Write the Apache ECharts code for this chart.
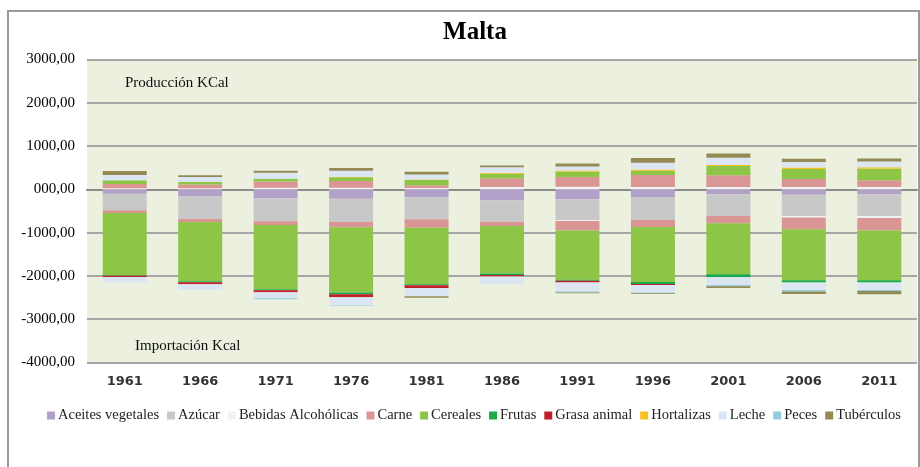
<!DOCTYPE html>
<html><head><meta charset="utf-8">
<script src="https://cdn.jsdelivr.net/npm/echarts@6/dist/echarts.min.js"></script>
<style>html,body{margin:0;padding:0;background:#fff}#c{width:920px;height:467px}</style>
</head><body><div id="c"></div>
<script>
const years = ['1961','1966','1971','1976','1981','1986','1991','1996','2001','2006','2011'];
const foods = ['Aceites vegetales','Azúcar','Bebidas Alcohólicas','Carne','Cereales','Frutas','Grasa animal','Hortalizas','Leche','Peces','Tubérculos'];
const colors = ['#B1A0C7','#C8C8C8','#F2F2F2','#DA9694','#8DC546','#1AA84A','#C0202A','#F9C124','#DCE6F2','#92CDDC','#948A54'];
const yTicks = [-4000,-3000,-2000,-1000,0,1000,2000,3000];

// Producción (positive)
const prodAceites    = [0,0,0,0,0,0,0,0,0,0,0];
const prodAzucar     = [0,0,0,0,0,0,0,0,0,0,0];
const prodBebidas    = [25,25,38,38,30,54,60,54,54,54,54];
const prodCarne      = [100,85,146,154,62,200,223,277,270,185,154];
const prodCereales   = [85,62,62,85,123,108,130,100,215,230,270];
const prodFrutas     = [0,0,0,0,0,0,0,0,0,0,0];
const prodGrasa      = [0,0,0,0,0,0,0,0,0,0,0];
const prodHortalizas = [0,0,0,15,15,23,23,30,30,38,30];
const prodLeche      = [123,115,138,138,115,123,92,154,162,123,138];
const prodPeces      = [0,0,0,0,0,0,0,0,0,0,0];
const prodTuberculos = [92,38,46,62,62,46,69,108,100,77,69];

// Importación (negative)
const impAceites    = [-100,-160,-208,-215,-185,-254,-230,-177,-115,-123,-115];
const impAzucar     = [-385,-523,-530,-538,-508,-492,-485,-530,-500,-492,-500];
const impBebidas    = [0,0,0,0,0,0,-15,0,0,-38,-46];
const impCarne      = [-62,-70,-85,-123,-192,-100,-223,-162,-170,-270,-292];
const impCereales   = [-1438,-1370,-1485,-1507,-1307,-1100,-1138,-1270,-1177,-1177,-1146];
const impFrutas     = [-8,-23,-23,-38,-23,-30,-23,-46,-69,-54,-54];
const impGrasa      = [-30,-46,-46,-69,-62,-38,-38,-23,0,0,0];
const impHortalizas = [0,0,0,0,0,0,0,0,0,0,0];
const impLeche      = [-130,-130,-138,-185,-192,-177,-208,-177,-177,-170,-170];
const impPeces      = [0,0,-23,-15,0,0,-23,-15,-30,-38,-23];
const impTuberculos = [0,0,0,0,-38,0,-15,-15,-38,-54,-77];

const prodAll = [prodAceites,prodAzucar,prodBebidas,prodCarne,prodCereales,prodFrutas,prodGrasa,prodHortalizas,prodLeche,prodPeces,prodTuberculos];
const impAll  = [impAceites,impAzucar,impBebidas,impCarne,impCereales,impFrutas,impGrasa,impHortalizas,impLeche,impPeces,impTuberculos];

const series = [];
foods.forEach((f, i) => {
  [prodAll[i], impAll[i]].forEach(arr => {
    series.push({
      name: f, type: 'bar', stack: 'total', barWidth: 44,
      itemStyle: { color: colors[i] },
      data: arr
    });
  });
});

const serif = '"Liberation Serif", "Times New Roman", serif';
const chart = echarts.init(document.getElementById('c'));
chart.setOption({
  animation: false,
  backgroundColor: '#fff',
  color: colors,
  title: {
    text: 'Malta', left: 470, top: 15, textAlign: 'center',
    textStyle: { fontFamily: serif, fontSize: 25, fontWeight: 'bold', color: '#000' }
  },
  grid: { left: 87, right: 3, top: 59.5, bottom: 104.5, show: true, backgroundColor: '#EBF1DE', borderWidth: 0 },
  legend: {
    data: foods, left: 47, top: 408, width: 900, padding: 0, icon: 'rect', itemWidth: 8, itemHeight: 8, itemGap: 8,
    textStyle: { fontFamily: serif, fontSize: 14.5, color: '#222', padding: [0,0,0,-2] }
  },
  xAxis: {
    type: 'category', data: years,
    axisLine: { show: true, lineStyle: { color: '#8C8C8C', width: 2 } },
    axisTick: { show: false },
    axisLabel: { margin: 13, fontFamily: '"DejaVu Sans", sans-serif', fontWeight: 'bold', fontSize: 13, color: '#333' }
  },
  yAxis: {
    type: 'value', min: yTicks[0], max: yTicks[yTicks.length-1], interval: 1000,
    axisLine: { show: false }, axisTick: { show: false },
    splitLine: { lineStyle: { color: '#A6A6A6', width: 2 } },
    axisLabel: {
      margin: 12, fontFamily: serif, fontSize: 15, color: '#000',
      formatter: v => v === 0 ? '000,00' : v.toFixed(2).replace('.', ',')
    }
  },
  graphic: [
    { type: 'rect', shape: { x: 8, y: 11, width: 911, height: 470 }, style: { fill: 'none', stroke: '#9A9A9A', lineWidth: 2 }, silent: true, z: -1 },
    { type: 'text', left: 125, top: 76, style: { text: 'Producción KCal', fontFamily: serif, fontSize: 15, fill: '#111' }, z: 100 },
    { type: 'text', left: 135, top: 339, style: { text: 'Importación Kcal', fontFamily: serif, fontSize: 15, fill: '#111' }, z: 100 }
  ],
  series: series
});
</script></body></html>
